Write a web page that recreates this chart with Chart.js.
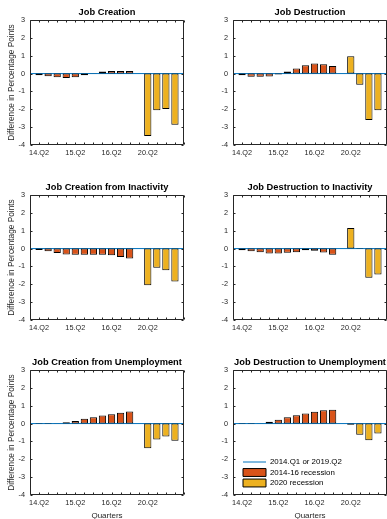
<!DOCTYPE html>
<html>
<head>
<meta charset="utf-8">
<script src="https://cdn.jsdelivr.net/npm/chart.js@4"></script>
<style>
  html, body { margin: 0; padding: 0; background: #fff; overflow: hidden; width: 387px; height: 519px; }
  canvas { position: absolute; }
</style>
</head>
<body>
<canvas id="p0" width="214" height="175" style="left:0px;top:0px"></canvas>
<canvas id="p1" width="234" height="175" style="left:193px;top:0px"></canvas>
<canvas id="p2" width="214" height="175" style="left:0px;top:175px"></canvas>
<canvas id="p3" width="234" height="175" style="left:193px;top:175px"></canvas>
<canvas id="p4" width="214" height="175" style="left:0px;top:350px"></canvas>
<canvas id="p5" width="234" height="175" style="left:193px;top:350px"></canvas>
<script>
// quarters after the start of each recession, slot 12 is left blank
const quarters = ['14.Q2','14.Q3','14.Q4','15.Q1','15.Q2','15.Q3','15.Q4','16.Q1','16.Q2','16.Q3','16.Q4','',
                  '20.Q2','20.Q3','20.Q4','21.Q1'];
const labelEvery = 4;
const yTicks = [-4, 3];

const legendNames = ['2014.Q1 or 2019.Q2', '2014-16 recession', '2020 recession'];

const panelTitles = ['Job Creation', 'Job Destruction',
                     'Job Creation from Inactivity', 'Job Destruction to Inactivity',
                     'Job Creation from Unemployment', 'Job Destruction to Unemployment'];

const creation1416 = [-0.10, -0.15, -0.20, -0.25, -0.20, -0.10, 0.02, 0.12, 0.15, 0.15, 0.15];
const creation2020 = [-3.50, -2.05, -1.98, -2.87];

const destruction1416 = [-0.10, -0.18, -0.18, -0.17, -0.05, 0.12, 0.28, 0.47, 0.56, 0.52, 0.43];
const destruction2020 = [0.97, -0.62, -2.60, -2.05];

const creationInact1416 = [-0.08, -0.15, -0.25, -0.33, -0.35, -0.35, -0.35, -0.35, -0.38, -0.47, -0.55];
const creationInact2020 = [-2.05, -1.07, -1.22, -1.84];

const destructionInact1416 = [-0.10, -0.15, -0.20, -0.27, -0.27, -0.23, -0.20, -0.10, -0.12, -0.22, -0.35];
const destructionInact2020 = [1.15, -0.03, -1.63, -1.45];

const creationUnemp1416 = [-0.03, -0.02, 0.02, 0.07, 0.15, 0.27, 0.35, 0.45, 0.52, 0.60, 0.68];
const creationUnemp2020 = [-1.38, -0.89, -0.72, -0.96];

const destructionUnemp1416 = [-0.03, -0.03, 0.02, 0.10, 0.22, 0.35, 0.46, 0.56, 0.66, 0.74, 0.78];
const destructionUnemp2020 = [-0.07, -0.63, -0.94, -0.55];

const series1416 = [creation1416, destruction1416, creationInact1416, destructionInact1416, creationUnemp1416, destructionUnemp1416];
const series2020 = [creation2020, destruction2020, creationInact2020, destructionInact2020, creationUnemp2020, destructionUnemp2020];

const colors = ['#0072BD', '#D95319', '#EDB120'];

Chart.defaults.font.family = "'Liberation Sans', Arial, Helvetica, sans-serif";
Chart.defaults.color = '#262626';
Chart.defaults.animation = false;

// matlab style box with inward ticks on all four sides
const boxPlugin = {
  id: 'box',
  afterDatasetsDraw(chart) {
    const ctx = chart.ctx, a = chart.chartArea, xs = chart.scales.x, ys = chart.scales.y;
    const L = Math.round(a.left) + 0.5, R = Math.round(a.right) - 0.5;
    const T = Math.round(a.top) + 0.5, B = Math.round(a.bottom) - 0.5;
    ctx.save();
    ctx.strokeStyle = '#262626';
    ctx.lineWidth = 1;
    ctx.beginPath();
    ctx.rect(L, T, R - L, B - T);
    xs.ticks.forEach(t => {
      const px = Math.round(xs.getPixelForValue(t.value)) + 0.5;
      ctx.moveTo(px, B); ctx.lineTo(px, B - 2);
      ctx.moveTo(px, T); ctx.lineTo(px, T + 2);
    });
    ys.ticks.forEach(t => {
      const py = Math.round(ys.getPixelForValue(t.value)) + 0.5;
      ctx.moveTo(L, py); ctx.lineTo(L + 2, py);
      ctx.moveTo(R, py); ctx.lineTo(R - 2, py);
    });
    ctx.stroke();
    ctx.restore();
  }
};

// put the legend in the lower left corner of the plot
const legendPad = 2.6;
const legendPlace = {
  id: 'legendPlace',
  afterLayout(chart) {
    if (!chart.options.plugins.legend.display) return;
    const lg = chart.legend, a = chart.chartArea;
    lg.left = a.left + 10 - legendPad;
    lg.right = a.right;
    lg.top = a.bottom - 33 - 3.95 - legendPad;
    lg.bottom = a.bottom + 40;
  }
};

function makePanel(i) {
  const leftCol = i % 2 === 0;
  const bottomRow = i >= 4;
  const withLegend = i === 5;
  const start2020 = quarters.indexOf('20.Q2') + 1;

  new Chart(document.getElementById('p' + i), {
    type: 'bar',
    data: {
      datasets: [
        {
          type: 'line',
          label: legendNames[0],
          data: [{x: 0, y: 0}, {x: quarters.length + 1, y: 0}],
          borderColor: colors[0],
          borderWidth: 1,
          pointRadius: 0,
          order: 3
        },
        {
          label: legendNames[1],
          data: series1416[i].map((v, k) => ({x: k + 1, y: v})),
          backgroundColor: colors[1],
          borderColor: '#000',
          borderWidth: 1,
          borderSkipped: false,
          order: 1
        },
        {
          label: legendNames[2],
          data: series2020[i].map((v, k) => ({x: start2020 + k, y: v})),
          backgroundColor: colors[2],
          borderColor: '#000',
          borderWidth: 1,
          borderSkipped: false,
          order: 1
        }
      ]
    },
    options: {
      responsive: false,
      devicePixelRatio: 1,
      events: [],
      grouped: false,
      barPercentage: 0.8,
      categoryPercentage: 1,
      layout: {padding: {top: 6.84, left: 0, right: leftCol ? 30 : 40, bottom: 0}},
      scales: {
        x: {
          type: 'linear',
          offset: false,
          min: 0,
          max: quarters.length + 1,
          grid: {display: false, drawTicks: false},
          border: {display: false},
          ticks: {
            stepSize: 1, autoSkip: false, maxRotation: 0, minRotation: 0, padding: 4,
            font: {size: 7.3},
            callback: v => ((v - 1) % labelEvery === 0 ? (quarters[v - 1] || '') : '')
          },
          title: {display: bottomRow, text: 'Quarters', font: {size: 8}, color: '#262626', padding: {top: 0, bottom: 4.7}},
          afterFit: s => { s.height = 30; }
        },
        y: {
          min: yTicks[0],
          max: yTicks[1],
          grid: {display: false, drawTicks: false},
          border: {display: false},
          ticks: {stepSize: 1, padding: 5, font: {size: 7.3}},
          title: {display: leftCol, text: 'Difference in Percentage Points', font: {size: 8.3}, color: '#262626', padding: {top: 6.7, bottom: 0}},
          afterFit: s => { s.width = leftCol ? 30 : 40; }
        }
      },
      plugins: {
        title: {
          display: true,
          fullSize: false,
          text: panelTitles[i],
          color: '#000',
          font: {size: 9.3, weight: 'bold'},
          padding: {top: 0, bottom: 2}
        },
        tooltip: {enabled: false},
        legend: {
          display: withLegend,
          position: 'chartArea',
          align: 'start',
          labels: {
            usePointStyle: true,
            pointStyleWidth: 23,
            boxHeight: 8,
            padding: legendPad,
            color: '#000',
            font: {size: 7.9},
            generateLabels: () => legendNames.map((text, k) => ({
              text: text,
              datasetIndex: k,
              hidden: false,
              pointStyle: k === 0 ? 'line' : 'rect',
              fillStyle: colors[k],
              strokeStyle: k === 0 ? colors[0] : '#000',
              lineWidth: 1,
              fontColor: '#000'
            }))
          }
        }
      }
    },
    plugins: [boxPlugin, legendPlace]
  });
}

for (let i = 0; i < 6; i++) makePanel(i);
</script>
</body>
</html>
